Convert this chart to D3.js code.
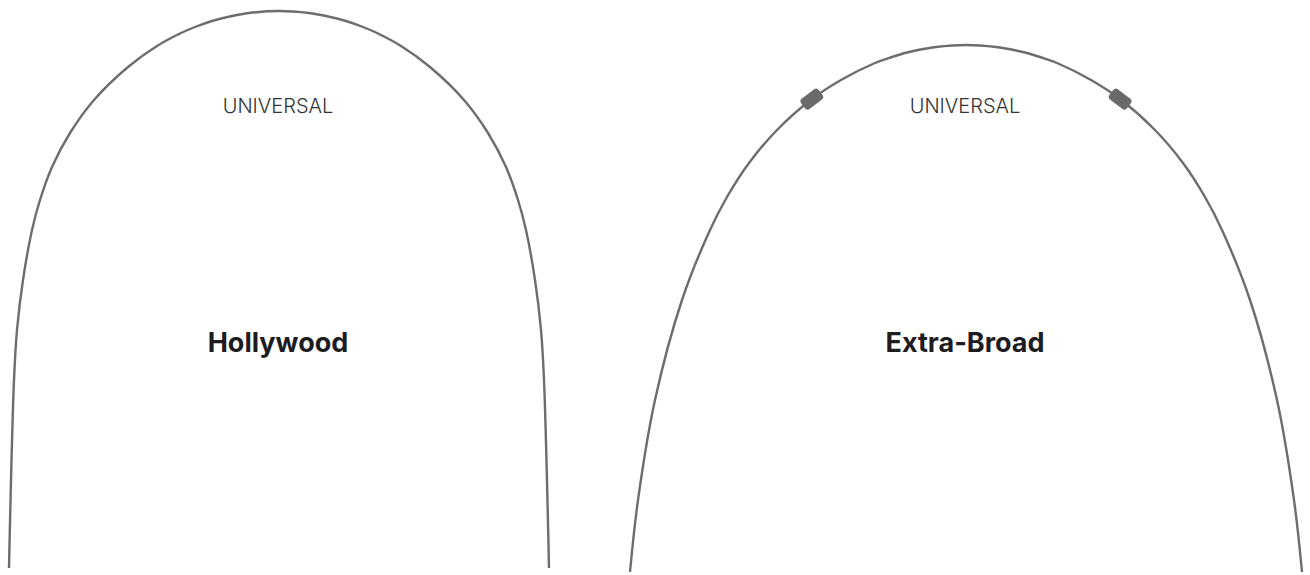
<!DOCTYPE html>
<html>
<head>
<meta charset="utf-8">
<script src="https://cdn.jsdelivr.net/npm/d3@7"></script>
<style>
  body { margin: 0; background: #fff; }
  svg text { font-family: Inter, "Noto Sans", sans-serif; }
</style>
</head>
<body>
<svg id="arches"></svg>
<script>
// arch forms: depth (y) against half width from the arch midline
const archNames = ["Hollywood", "Extra-Broad"];
const topLabel = "UNIVERSAL";
const hollywoodDepth = [11, 13, 16, 21, 27, 33, 46, 67, 100, 133, 167, 200, 230, 280, 330, 380, 568];
const hollywoodHalfWidth = [0, 30, 47, 67, 84, 98, 122, 151, 185, 209, 227, 239, 247, 256, 262, 265, 270];
const extraBroadDepth = [45, 47, 50, 53, 57, 63, 80, 99, 130, 163, 197, 230, 300, 400, 500, 572];
const extraBroadHalfWidth = [0, 30, 48, 61, 74, 91, 125, 154, 189, 217, 239, 256, 284, 311, 328, 336];
// crimp stops on the wire, as offsets from the midline
const hollywoodStops = [];
const extraBroadStops = [-154, 154];

const archDepths = [hollywoodDepth, extraBroadDepth];
const archWidths = [hollywoodHalfWidth, extraBroadHalfWidth];
const archStops = [hollywoodStops, extraBroadStops];

const dimensions = { width: 1310, height: 575 };

var svg = d3.select("#arches")
    .attr("width", dimensions.width)
    .attr("height", dimensions.height);

var centerScale = d3.scalePoint()
    .domain(archNames)
    .range([279, 966]);

var yScale = d3.scaleLinear()
    .domain([0, 575])
    .range([0, 575]);

var line = d3.line()
    .x(d => d.x)
    .y(d => d.y)
    .curve(d3.curveCatmullRom.alpha(0.5));

archNames.forEach((name, i) => {
    const cx = centerScale(name);
    const xScale = d3.scaleLinear().domain([-400, 400]).range([cx - 400, cx + 400]);
    const depth = archDepths[i];
    const hw = archWidths[i];

    // left leg bottom -> top, then right leg top -> bottom
    const pts = [];
    for (let k = depth.length - 1; k >= 1; k--) pts.push({ x: xScale(-hw[k]), y: yScale(depth[k]) });
    pts.push({ x: xScale(0), y: yScale(depth[0]) });
    for (let k = 1; k < depth.length; k++) pts.push({ x: xScale(hw[k]), y: yScale(depth[k]) });

    const g = svg.append("g").attr("class", "arch");

    const wire = g.append("path")
        .attr("d", line(pts))
        .attr("fill", "none")
        .attr("stroke", "#6d6d6d")
        .attr("stroke-width", 2.4);

    // place the stops on the wire, turned along it
    const node = wire.node();
    const total = node.getTotalLength();
    archStops[i].forEach(off => {
        const target = xScale(off);
        let best = null;
        for (let s = 0; s <= total; s += 0.5) {
            const p = node.getPointAtLength(s);
            if (p.y > 250) continue;
            const dist = Math.abs(p.x - target);
            if (!best || dist < best.dist) best = { s: s, p: p, dist: dist };
        }
        const a = node.getPointAtLength(Math.max(0, best.s - 2));
        const b = node.getPointAtLength(Math.min(total, best.s + 2));
        const angle = Math.atan2(b.y - a.y, b.x - a.x) * 180 / Math.PI;
        g.append("rect")
            .attr("x", -11)
            .attr("y", -6.5)
            .attr("width", 22)
            .attr("height", 13)
            .attr("rx", 3.5)
            .attr("fill", "#6a6a6a")
            .attr("transform", `translate(${best.p.x}, ${best.p.y}) rotate(${angle})`);
    });

    g.append("text")
        .attr("x", cx - 1)
        .attr("y", yScale(113))
        .attr("text-anchor", "middle")
        .attr("font-size", 20)
        .attr("font-weight", 300)
        .attr("fill", "#333")
        .text(topLabel);

    g.append("text")
        .attr("x", cx - 1)
        .attr("y", yScale(352))
        .attr("text-anchor", "middle")
        .attr("font-size", 27)
        .attr("font-weight", 700)
        .attr("fill", "#1d1d1f")
        .text(name);
});
</script>
</body>
</html>
